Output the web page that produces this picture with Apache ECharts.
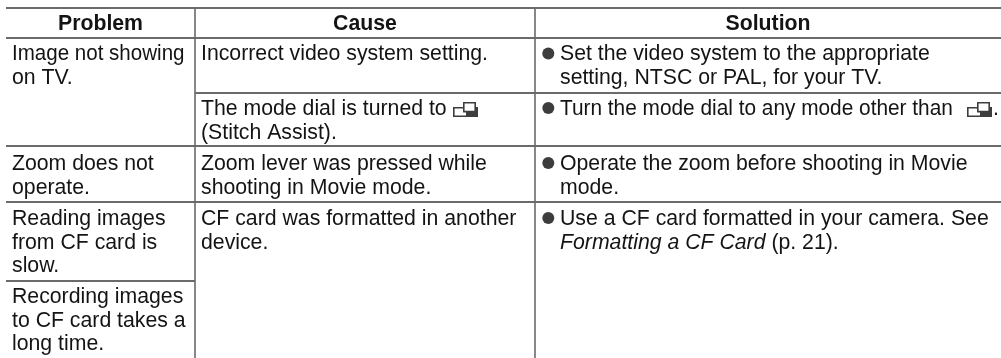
<!DOCTYPE html>
<html>
<head>
<meta charset="utf-8">
<title>Troubleshooting table</title>
<style>
  html, body { margin: 0; padding: 0; background: #fff; }
  #main { width: 1001px; height: 358px; }
</style>
<script src="https://cdn.jsdelivr.net/npm/echarts@6/dist/echarts.min.js"></script>
</head>
<body>
<div id="main"></div>
<script>
// table edges (pixels of the 1001x358 image)
const colEdges = [6, 195, 535, 1001]
const rowEdges = [8, 38, 93, 146, 202, 281, 358]
// baseline of the first text line in each row
const rowBaselines = [30, 60.5, 115, 170, 225, 303]

const headers = ['Problem', 'Cause', 'Solution']

// [first column, last column, row] of each horizontal rule
const rules = [
  [0, 2, 0],
  [0, 2, 1],
  [1, 2, 2],
  [0, 2, 3],
  [0, 2, 4],
  [0, 0, 5],
]

// [row, lines]
const problems = [
  [1, ['Image not showing', 'on TV.']],
  [3, ['Zoom does not', 'operate.']],
  [4, ['Reading images', 'from CF card is', 'slow.']],
  [5, ['Recording images', 'to CF card takes a', 'long time.']],
]
const causes = [
  [1, ['Incorrect video system setting.']],
  [2, ['The mode dial is turned to', '(Stitch Assist).']],
  [3, ['Zoom lever was pressed while', 'shooting in Movie mode.']],
  [4, ['CF card was formatted in another', 'device.']],
]
const solutions = [
  [1, ['Set the video system to the appropriate', 'setting, NTSC or PAL, for your TV.']],
  [2, ['Turn the mode dial to any mode other than']],
  [3, ['Operate the zoom before shooting in Movie', 'mode.']],
  [4, ['Use a CF card formatted in your camera. See', '{i|Formatting a CF Card} (p. 21).']],
]
// centre of the stitch assist icons
const stitchIcons = [[465.5, 109.5], [979.5, 109.5]]
// the stop after the icon in the second solution
const trailingStops = [[993, 115, '.']]
// these two lines are set tighter than the rest in the original
const tightLines = {
  'Image not showing': 0.967,
  'Turn the mode dial to any mode other than': 0.98,
}

const FONT = '"Liberation Sans", Arial, sans-serif'
const INK = '#141414'
const FONT_SIZE = 21.25
const LEADING = 23.8
const DESCENT = 4.5

const textData = []
headers.forEach((h, c) => {
  textData.push([(colEdges[c] + colEdges[c + 1]) / 2, rowBaselines[0], h, 'header'])
})
function addCell(list, x) {
  list.forEach(([row, lines]) => {
    lines.forEach((line, i) => {
      textData.push([x, rowBaselines[row] + i * LEADING, line, 'body'])
    })
  })
}
addCell(problems, colEdges[0] + 6)
addCell(causes, colEdges[1] + 6)
addCell(solutions, colEdges[2] + 25)
trailingStops.forEach((t) => textData.push([t[0], t[1], t[2], 'body']))

const lineData = rules.map(([a, b, r]) => [colEdges[a], rowEdges[r], colEdges[b + 1], rowEdges[r], 'h'])
colEdges.slice(1, 3).forEach((x) => lineData.push([x, rowEdges[0], x, rowEdges[6], 'v']))

const bulletData = solutions.map(([row]) => [colEdges[2] + 13.3, rowBaselines[row] - 7])

const chart = echarts.init(document.getElementById('main'))
chart.setOption({
  animation: false,
  backgroundColor: '#fff',
  grid: { left: 0, right: 0, top: 0, bottom: 0 },
  xAxis: { type: 'value', min: 0, max: 1001, show: false },
  yAxis: { type: 'value', min: 0, max: 358, inverse: true, show: false },
  series: [
    {
      type: 'custom',
      coordinateSystem: 'cartesian2d',
      silent: true,
      data: lineData,
      encode: { x: [0, 2], y: [1, 3] },
      renderItem(params, api) {
        const p1 = api.coord([api.value(0), api.value(1)])
        const p2 = api.coord([api.value(2), api.value(3)])
        const isH = api.value(4) === 'h'
        return {
          type: 'line',
          shape: { x1: p1[0], y1: p1[1], x2: p2[0], y2: p2[1] },
          style: { stroke: isH ? '#3a3a3a' : '#6a6a6a', lineWidth: isH ? 1.4 : 1.6 },
        }
      },
    },
    {
      type: 'custom',
      coordinateSystem: 'cartesian2d',
      silent: true,
      data: textData,
      encode: { x: 0, y: 1 },
      renderItem(params, api) {
        const p = api.coord([api.value(0), api.value(1)])
        const d = textData[params.dataIndex]
        const isHeader = d[3] === 'header'
        return {
          type: 'text',
          x: p[0],
          y: p[1] + DESCENT,
          scaleX: tightLines[d[2]] || 1,
          style: {
            text: d[2],
            fill: INK,
            font: (isHeader ? 'bold ' : '') + FONT_SIZE + 'px ' + FONT,
            align: isHeader ? 'center' : 'left',
            verticalAlign: 'bottom',
            rich: { i: { font: 'italic ' + FONT_SIZE + 'px ' + FONT, fill: INK } },
          },
        }
      },
    },
    {
      type: 'scatter',
      silent: true,
      symbol: 'circle',
      symbolSize: 12,
      itemStyle: { color: '#0c0c0c' },
      data: bulletData,
    },
    {
      type: 'scatter',
      silent: true,
      // two overlapping outlined boxes, lower right part filled
      symbol: 'path://M0 5H10V0H23V5H25V15H0ZM1.6 6.6V13.4H13V10.4H10V6.6ZM11.6 1.6V8.8H21.4V1.6Z',
      symbolSize: [25, 15],
      itemStyle: { color: '#0c0c0c' },
      data: stitchIcons,
    },
  ],
})
</script>
</body>
</html>
